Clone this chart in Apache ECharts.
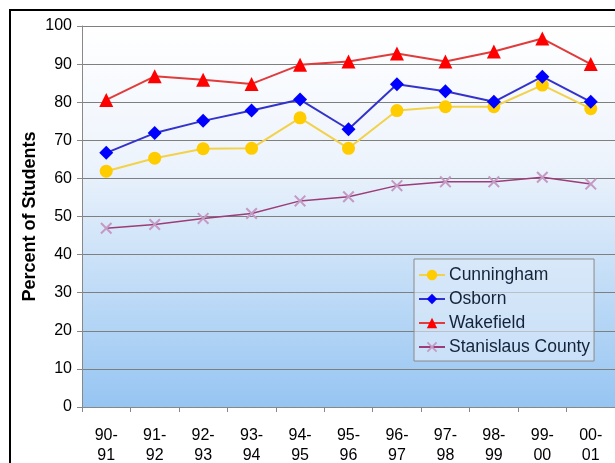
<!DOCTYPE html>
<html>
<head>
<meta charset="utf-8">
<script src="https://cdn.jsdelivr.net/npm/echarts@6/dist/echarts.min.js"></script>
<style>html,body{margin:0;padding:0;background:#fff;}#c{width:615px;height:463px;}</style>
</head>
<body>
<div id="c"></div>
<script>
var categories = ['90-\n91','91-\n92','92-\n93','93-\n94','94-\n95','95-\n96','96-\n97','97-\n98','98-\n99','99-\n00','00-\n01'];
var cunningham = [61.9, 65.3, 67.8, 67.9, 75.9, 67.9, 77.8, 78.8, 78.8, 84.5, 78.3];
var osborn     = [66.7, 71.9, 75.1, 77.8, 80.7, 72.9, 84.7, 82.9, 80.1, 86.7, 80.1];
var wakefield  = [80.6, 86.8, 85.9, 84.8, 89.8, 90.7, 92.8, 90.7, 93.3, 96.7, 90.0];
var stanislaus = [46.9, 47.9, 49.5, 50.8, 54.1, 55.2, 58.1, 59.1, 59.1, 60.3, 58.5];
var yTicks = [0,10,20,30,40,50,60,70,80,90,100];

var chart = echarts.init(document.getElementById('c'), null, {renderer:'canvas'});
var xPath = 'path://M0,1.2L1.2,0L5,3.8L8.8,0L10,1.2L6.2,5L10,8.8L8.8,10L5,6.2L1.2,10L0,8.8L3.8,5Z';
var font = 'Liberation Sans, Arial, sans-serif';
chart.setOption({
  backgroundColor: '#ffffff',
  animation: false,
  graphic: [{
    type: 'rect', z: 100,
    shape: {x: 10, y: 10, width: 700, height: 600},
    style: {fill: 'none', stroke: '#000', lineWidth: 2}
  }],
  grid: {
    left: 82, right: 0, top: 26, bottom: 56,
    outerBoundsMode: 'none', containLabel: false,
    show: true, borderWidth: 0,
    backgroundColor: new echarts.graphic.LinearGradient(0, 0, 0, 1, [
      {offset: 0, color: '#ffffff'},
      {offset: 0.35, color: '#eef4fc'},
      {offset: 1, color: '#96c5f2'}
    ])
  },
  legend: {
    orient: 'vertical', left: 414, top: 259,
    padding: [7, 4, 5, 4],
    itemGap: 6, itemWidth: 26, itemHeight: 13,
    backgroundColor: 'rgba(225,236,250,0.6)',
    borderColor: '#8a8a8a', borderWidth: 1,
    textStyle: {fontFamily: font, fontSize: 17.5, color: '#14233a', padding: [0,0,0,-1]},
    data: ['Cunningham','Osborn','Wakefield','Stanislaus County']
  },
  xAxis: {
    type: 'category', data: categories, boundaryGap: true,
    axisLine: {show: true, lineStyle: {color: '#888', width: 1}},
    axisTick: {show: true, length: 5, lineStyle: {color: '#888'}},
    axisLabel: {fontFamily: font, fontSize: 16, color: '#000', lineHeight: 20, margin: 19, interval: 0}
  },
  yAxis: {
    type: 'value', min: 0, max: 100, interval: 10,
    name: 'Percent of Students', nameLocation: 'middle', nameGap: 43,
    nameMoveOverlap: false,
    nameTextStyle: {fontFamily: font, fontSize: 18, fontWeight: 'bold', color: '#000'},
    axisLine: {show: true, lineStyle: {color: '#888', width: 1}},
    axisTick: {show: true, length: 5, lineStyle: {color: '#888'}},
    axisLabel: {fontFamily: font, fontSize: 16, color: '#000', margin: 10,
      formatter: function(v){ return yTicks.indexOf(v) >= 0 ? String(v) : ''; }},
    splitLine: {show: true, lineStyle: {color: '#7f7f7f', width: 1.2}}
  },
  series: [
    {name: 'Cunningham', type: 'line', data: cunningham, symbol: 'circle', symbolSize: 13,
     itemStyle: {color: '#FFCC00'}, lineStyle: {color: '#F2D24A', width: 2}},
    {name: 'Osborn', type: 'line', data: osborn, symbol: 'diamond', symbolSize: 14,
     itemStyle: {color: '#0000FF'}, lineStyle: {color: '#3333CC', width: 2}},
    {name: 'Wakefield', type: 'line', data: wakefield, symbol: 'triangle', symbolSize: 14,
     itemStyle: {color: '#FF0000'}, lineStyle: {color: '#E03C3C', width: 2}},
    {name: 'Stanislaus County', type: 'line', data: stanislaus, symbol: xPath, symbolSize: 12,
     itemStyle: {color: '#C49AC4'}, lineStyle: {color: '#9C3C78', width: 1.5}}
  ]
});
</script>
</body>
</html>
